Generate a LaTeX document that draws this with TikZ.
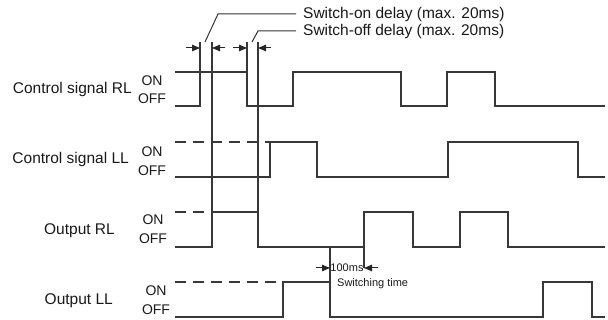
\documentclass[tikz,border=0pt]{standalone}
\usepackage{fontspec}
\setmainfont{Liberation Sans}
\usetikzlibrary{arrows.meta}
\begin{document}
\begin{tikzpicture}[x=1pt,y=-1pt,
  sig/.style={line width=1.4pt, draw=black!78, line join=miter},
  dsh/.style={sig, dash pattern=on 11pt off 7pt},
  lead/.style={line width=1pt, draw=black!80},
  lbl/.style={font=\fontsize{15.5}{18}\selectfont, text=black!90, inner sep=0pt},
  onoff/.style={font=\fontsize{14}{16}\selectfont, text=black!90, inner sep=0pt, anchor=base},
  small/.style={font=\fontsize{11}{13}\selectfont, text=black!90, inner sep=0pt},
  dim/.style={line width=1pt, draw=black!85, -{Triangle[length=8pt,width=6.5pt]}}]
\useasboundingbox (0,0) rectangle (608,320);

% row labels
\node[lbl, anchor=base east] (lrl) at (132,94) {Control signal RL};
\node[lbl, anchor=base east] (lll) at (129,164) {Control signal LL};
\node[lbl, anchor=base east] (orl) at (115,235) {Output RL};
\node[lbl, anchor=base east] (oll) at (113,305) {Output LL};

\node[onoff] (on1) at (152,86) {ON};
\node[onoff] (off1) at (152,104) {OFF};
\node[onoff] (on2) at (152,157) {ON};
\node[onoff] (off2) at (152,176) {OFF};
\node[onoff] (on3) at (153,225) {ON};
\node[onoff] (off3) at (153,244) {OFF};
\node[onoff] (on4) at (156,296) {ON};
\node[onoff] (off4) at (156,315) {OFF};

% Control signal RL (ON 72, OFF 106)
\draw[sig] (175,106) -| (200,42);
\draw[sig] (175,72) -- (247,72);
\draw[sig] (247,42) -- (247,106) -- (293,106) -- (293,72) -- (401,72) -- (401,106)
  -- (447,106) -- (447,72) -- (495,72) -- (495,106) -- (605,106);

% Control signal LL (ON 142, OFF 177)
\draw[dsh] (175,142) -- (270,142);
\draw[sig] (175,177) -| (270,142) -- (317,142) -- (317,177) -- (448,177)
  -- (448,142) -- (578,142) -- (578,177) -- (605,177);

% Output RL (ON 212, OFF 247)
\draw[dsh] (175,212) -- (212,212);
\draw[sig] (175,247) -| (212,42);
\draw[sig] (212,212) -- (258,212);
\draw[sig] (258,42) -- (258,247) -- (364,247);
\draw[sig] (364,268) -- (364,212) -- (413,212) -- (413,247) -- (460,247)
  -- (460,212) -- (508,212) -- (508,247) -- (605,247);

% Output LL (ON 282, OFF 317)
\draw[dsh] (175,282) -- (283,282);
\draw[sig] (175,317) -| (283,282) -- (330,282);
\draw[sig] (330,247) -- (330,317) -- (543,317) -- (543,282) -- (592,282)
  -- (592,317) -- (605,317);

% delay arrows
\draw[dim] (186,48) -- (200,48);
\draw[dim] (225,48) -- (212,48);
\draw[dim] (233,48) -- (247,48);
\draw[dim] (271,48) -- (258,48);

% leaders and texts
\draw[lead] (205,42) -- (218,14) -- (296,14);
\draw[lead] (252,42) -- (258,31) -- (296,31);
\node[lbl, anchor=base west] (ton) at (303,19) {Switch-on delay (max. 20ms)};
\node[lbl, anchor=base west] (toff) at (303,36) {Switch-off delay (max. 20ms)};

% switching time
\draw[dim] (316,268) -- (330,268);
\draw[dim] (378,268) -- (364,268);
\node[small] (ms) at (347,268) {100ms};
\node[small, anchor=base west] (swt) at (337,287) {Switching time};
\end{tikzpicture}
\end{document}
